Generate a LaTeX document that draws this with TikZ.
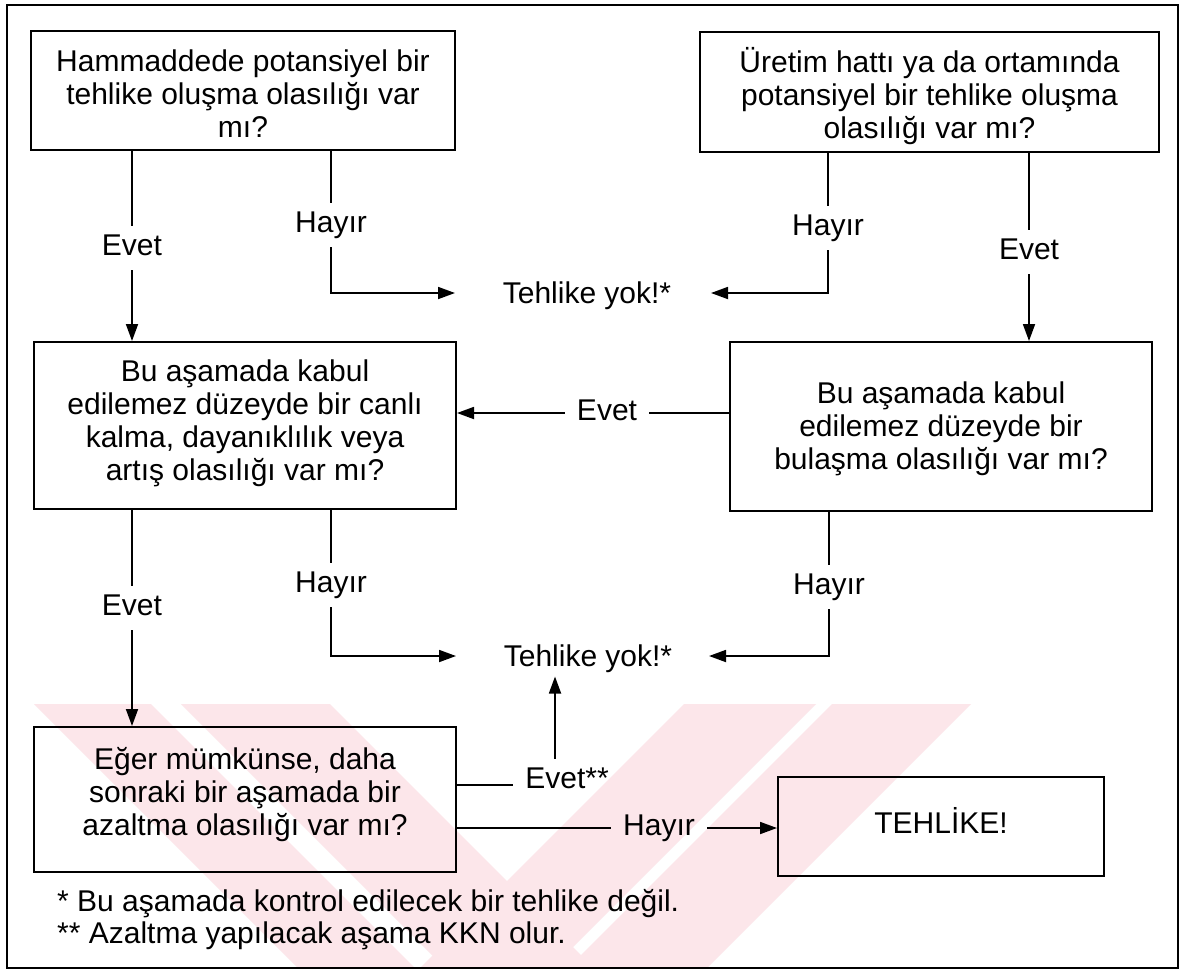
\documentclass[tikz,border=0pt]{standalone}
\usepackage{fontspec}
\setmainfont{Liberation Sans}
\usetikzlibrary{arrows.meta,calc}
\definecolor{wm}{RGB}{252,230,234}
\begin{document}
\begin{tikzpicture}[x=1pt,y=-1pt,
  every node/.style={font=\fontsize{30}{33}\selectfont},
  box/.style={draw,line width=2pt,align=center,inner sep=0pt,text depth=0pt,text height=#1},
  lbl/.style={inner xsep=12pt,inner ysep=8pt,text height=21.5pt,text depth=6.3pt},
  ln/.style={line width=1.8pt},
  arr/.style={ln,-{Triangle[length=17pt,width=12pt]}}]
\useasboundingbox (0,0) rectangle (1185,975);
\fill[white] (0,0) rectangle (1185,975);
% watermark
\begin{scope}
\clip (8,700) rectangle (1177,967);
\fill[wm] (34,704) -- (151,704) -- (414,967) -- (297,967) -- cycle;
\fill[wm] (181,704) -- (330,704) -- (593,967) -- (444,967) -- cycle;
\fill[wm] (684,704) -- (816,704) -- (553,967) -- (421,967) -- cycle;
\fill[wm] (832,704) -- (971,704) -- (708,967) -- (569,967) -- cycle;
\end{scope}
% frame
\draw[line width=2pt] (7,5) rectangle (1178,968);
% boxes
\node[box=93pt,minimum width=424pt,minimum height=119pt] (b1) at (243,90.5)
  {Hammaddede potansiyel bir\\tehlike oluşma olasılığı var\\mı?};
\node[box=92pt,minimum width=459pt,minimum height=120pt] (b2) at (929.5,92)
  {Üretim hattı ya da ortamında\\potansiyel bir tehlike oluşma\\olasılığı var mı?};
\node[box=109pt,minimum width=422pt,minimum height=167pt] (b3) at (245,425.5)
  {Bu aşamada kabul\\edilemez düzeyde bir canlı\\kalma, dayanıklılık veya\\artış olasılığı var mı?};
\node[box=86pt,minimum width=422pt,minimum height=169pt] (b4) at (941,426.5)
  {Bu aşamada kabul\\edilemez düzeyde bir\\bulaşma olasılığı var mı?};
\node[box=71pt,minimum width=422pt,minimum height=145pt] (b5) at (245,799.5)
  {Eğer mümkünse, daha\\sonraki bir aşamada bir\\azaltma olasılığı var mı?};
\node[box=14pt,minimum width=326pt,minimum height=99pt] (b6) at (941,826.5) {TEHLİKE!};
% outcome texts
\node (ty1) at (587,296) {Tehlike yok!*};
\node (ty2) at (588,659) {Tehlike yok!*};
\coordinate (t1L) at (455,293);
\coordinate (t1R) at (711,293);
\coordinate (t2L) at (456,656);
\coordinate (t2R) at (709,656);
% labels
\node[lbl] (e1) at (132,248) {Evet};
\node[lbl] (h1) at (331,225) {Hayır};
\node[lbl] (h2) at (828,228) {Hayır};
\node[lbl] (e2) at (1029,252) {Evet};
\node[lbl] (em) at (607,413) {Evet};
\node[lbl] (e3) at (132,608) {Evet};
\node[lbl] (h3) at (331,585) {Hayır};
\node[lbl] (h4) at (829,587) {Hayır};
\node[lbl] (es) at (567,781) {Evet**};
\node[lbl] (h5) at (659,828) {Hayır};
% connectors
\draw[ln] (e1 |- b1.south) -- (e1.north);
\draw[arr] (e1.south) -- (e1 |- b3.north);
\draw[ln] (h1 |- b1.south) -- (h1.north);
\draw[arr] (h1.south) |- (t1L);
\draw[ln] (h2 |- b2.south) -- (h2.north);
\draw[arr] (h2.south) |- (t1R);
\draw[ln] (e2 |- b2.south) -- (e2.north);
\draw[arr] (e2.south) -- (e2 |- b4.north);
\draw[ln] (em -| b4.west) -- (em.east);
\draw[arr] (em.west) -- (em -| b3.east);
\draw[ln] (e3 |- b3.south) -- (e3.north);
\draw[arr] (e3.south) -- (e3 |- b5.north);
\draw[ln] (h3 |- b3.south) -- (h3.north);
\draw[arr] (h3.south) |- (t2L);
\draw[ln] (h4 |- b4.south) -- (h4.north);
\draw[arr] (h4.south) |- (t2R);
\draw[ln] ([yshift=-4pt]es.west -| b5.east) -- ([yshift=-4pt]es.west);
\coordinate (up) at ([xshift=-12pt]es.north);
\draw[arr] (up) -- (up |- ty2.south);
\draw[ln] (h5 -| b5.east) -- (h5.west);
\draw[arr] (h5.east) -- (h5 -| b6.west);
% footnotes
\node[anchor=base west,inner sep=0pt] (f1) at (57,911) {* Bu aşamada kontrol edilecek bir tehlike değil.};
\node[anchor=base west,inner sep=0pt] (f2) at (57,943) {** Azaltma yapılacak aşama KKN olur.};
\end{tikzpicture}
\end{document}
